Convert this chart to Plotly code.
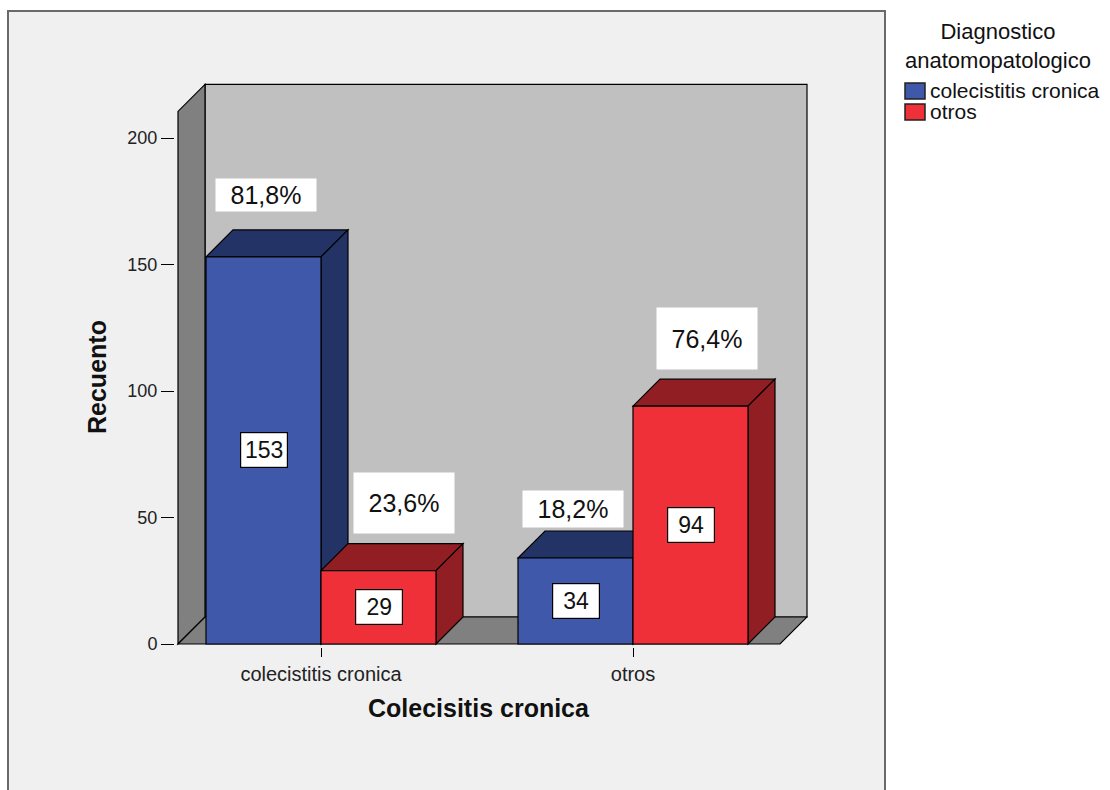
import plotly.graph_objects as go

# ---------------- data ----------------
categories = ["colecistitis cronica", "otros"]
series_names = ["colecistitis cronica", "otros"]
counts_cc = [153, 34]      # series "colecistitis cronica"
counts_otros = [29, 94]    # series "otros"
pct_cc = ["81,8%", "18,2%"]
pct_otros = ["23,6%", "76,4%"]
y_ticks = [0, 50, 100, 150, 200]

# ---------------- style / layout ----------------
front_cols = ["#3F58A9", "#EF3039"]
dark_cols = ["#243366", "#901E22"]
WALL_BACK = "#C0C0C0"
WALL_SIDE = "#808080"
FRAME_BG = "#F0F0F0"
FONT = "Liberation Sans, Arial, sans-serif"

# plot area in pixels
L, R, T, B = 175, 808, 82, 647
W, HH = R - L, B - T
# axis scales (pixel <-> data)
X_ORIGIN_PX, X_UNIT_PX = 321.0, 312.0
Y_ORIGIN_PX, Y_UNIT_PX = 644.0, 2.53

def dx_units(px):
    return px / X_UNIT_PX

def dy_units(px):
    return px / Y_UNIT_PX

xr = [(L - X_ORIGIN_PX) / X_UNIT_PX, (R - X_ORIGIN_PX) / X_UNIT_PX]
yr = [(Y_ORIGIN_PX - B) / Y_UNIT_PX, (Y_ORIGIN_PX - T) / Y_UNIT_PX]

def pxx(px):
    return (px - L) / W

def pxy(py):
    return (B - py) / HH

bar_w = dx_units(115)
DX = dx_units(27)
DY = dy_units(27)
X0 = dx_units(178 - X_ORIGIN_PX)
X1 = dx_units(780 - X_ORIGIN_PX)
WALL_H = 210.5

cat_pos = list(range(len(categories)))
series_vals = [counts_cc, counts_otros]
series_pct = [pct_cc, pct_otros]
series_offsets = [-bar_w, 0.0]

fig = go.Figure()
shapes = []

# frame (paper)
shapes.append(dict(type="rect", xref="paper", yref="paper", layer="below",
                   x0=pxx(8), x1=pxx(885), y0=pxy(800), y1=pxy(11),
                   fillcolor=FRAME_BG, line=dict(color="#6A6A6A", width=2)))

# walls
shapes.append(dict(type="rect", xref="x", yref="y", layer="below",
                   x0=X0 + DX, x1=X1 + DX, y0=DY, y1=WALL_H + DY,
                   fillcolor=WALL_BACK, line=dict(color="black", width=1.2)))
shapes.append(dict(type="path", xref="x", yref="y", layer="below",
                   path=f"M{X0},0 L{X0},{WALL_H} L{X0+DX},{WALL_H+DY} L{X0+DX},{DY} Z",
                   fillcolor=WALL_SIDE, line=dict(color="black", width=1.2)))
shapes.append(dict(type="path", xref="x", yref="y", layer="below",
                   path=f"M{X0},0 L{X1},0 L{X1+DX},{DY} L{X0+DX},{DY} Z",
                   fillcolor=WALL_SIDE, line=dict(color="black", width=1.2)))

# bar 3D faces (top + side), drawn in category, series order
for ci in cat_pos:
    for si in range(len(series_vals)):
        v = series_vals[si][ci]
        xa = ci + series_offsets[si]
        xb = xa + bar_w
        shapes.append(dict(type="path", xref="x", yref="y", layer="below",
                           path=f"M{xa},{v} L{xa+DX},{v+DY} L{xb+DX},{v+DY} L{xb},{v} Z",
                           fillcolor=dark_cols[si], line=dict(color="black", width=1.2)))
        shapes.append(dict(type="path", xref="x", yref="y", layer="below",
                           path=f"M{xb},0 L{xb},{v} L{xb+DX},{v+DY} L{xb+DX},{DY} Z",
                           fillcolor=dark_cols[si], line=dict(color="black", width=1.2)))

# front faces
for si in range(len(series_vals)):
    fig.add_trace(go.Bar(
        x=cat_pos, y=series_vals[si], width=bar_w, offset=series_offsets[si],
        marker=dict(color=front_cols[si], line=dict(color="black", width=1.2)),
        name=series_names[si], showlegend=False, hoverinfo="skip"))

annotations = []
# count labels
for si in range(len(series_vals)):
    for ci in cat_pos:
        v = series_vals[si][ci]
        annotations.append(dict(
            x=ci + series_offsets[si] + bar_w / 2, y=v / 2, xref="x", yref="y",
            xanchor="center", yanchor="middle",
            text=str(v), showarrow=False, font=dict(family=FONT, size=23, color="#111"),
            bgcolor="white", bordercolor="black", borderwidth=1.2,
            width=44, height=32))

# percent labels
pct_shift_x = [[2, -3], [25, 16]]
pct_shift_y = [[35, 22], [41, 41]]
pct_box_h = [[30, 34], [58, 59]]
for si in range(len(series_vals)):
    for ci in cat_pos:
        v = series_vals[si][ci]
        annotations.append(dict(
            x=ci + series_offsets[si] + bar_w / 2, y=v + DY, xref="x", yref="y",
            xanchor="center", yanchor="middle",
            xshift=pct_shift_x[si][ci], yshift=pct_shift_y[si][ci],
            text=series_pct[si][ci], showarrow=False,
            font=dict(family=FONT, size=25, color="#111"),
            bgcolor="white", width=98, height=pct_box_h[si][ci]))

# axis titles
annotations.append(dict(x=pxx(479), y=pxy(708), xref="paper", yref="paper",
                        xanchor="center", yanchor="middle",
                        text="<b>Colecisitis cronica</b>", showarrow=False,
                        font=dict(family=FONT, size=25, color="#111")))
annotations.append(dict(x=pxx(97), y=pxy(377), xref="paper", yref="paper",
                        xanchor="center", yanchor="middle",
                        text="<b>Recuento</b>", showarrow=False, textangle=-90,
                        font=dict(family=FONT, size=25, color="#111")))

# manual legend
annotations.append(dict(x=pxx(998), y=pxy(46), xref="paper", yref="paper",
                        xanchor="center", yanchor="middle",
                        text="Diagnostico<br>anatomopatologico", showarrow=False,
                        align="center", font=dict(family=FONT, size=22, color="#111")))
leg_rows = [91, 112]
for si in range(len(series_names)):
    cy = leg_rows[si]
    shapes.append(dict(type="rect", xref="paper", yref="paper", layer="above",
                       x0=pxx(905), x1=pxx(925), y0=pxy(cy + 8), y1=pxy(cy - 8),
                       fillcolor=front_cols[si], line=dict(color="#222", width=1.5)))
    annotations.append(dict(x=pxx(928), y=pxy(cy), xref="paper", yref="paper",
                            xanchor="left", yanchor="middle",
                            text=series_names[si], showarrow=False,
                            font=dict(family=FONT, size=21, color="#111")))

fig.update_layout(
    width=1110, height=790,
    margin=dict(l=L, r=1110 - R, t=T, b=790 - B, pad=0),
    paper_bgcolor="white", plot_bgcolor="rgba(0,0,0,0)",
    shapes=shapes, annotations=annotations, barmode="overlay",
    font=dict(family=FONT, color="#222"),
    xaxis=dict(range=xr, tickvals=cat_pos, ticktext=categories, ticks="outside",
               ticklen=9, tickwidth=1.2, tickcolor="black", showgrid=False,
               zeroline=False, showline=False, tickfont=dict(size=20, color="#222")),
    yaxis=dict(range=yr, tickvals=y_ticks, ticks="outside", ticklen=13, tickwidth=1.2,
               tickcolor="black", showgrid=False, zeroline=False, showline=False,
               tickfont=dict(size=18, color="#222")),
    showlegend=False,
)

fig.write_html("out.html")
